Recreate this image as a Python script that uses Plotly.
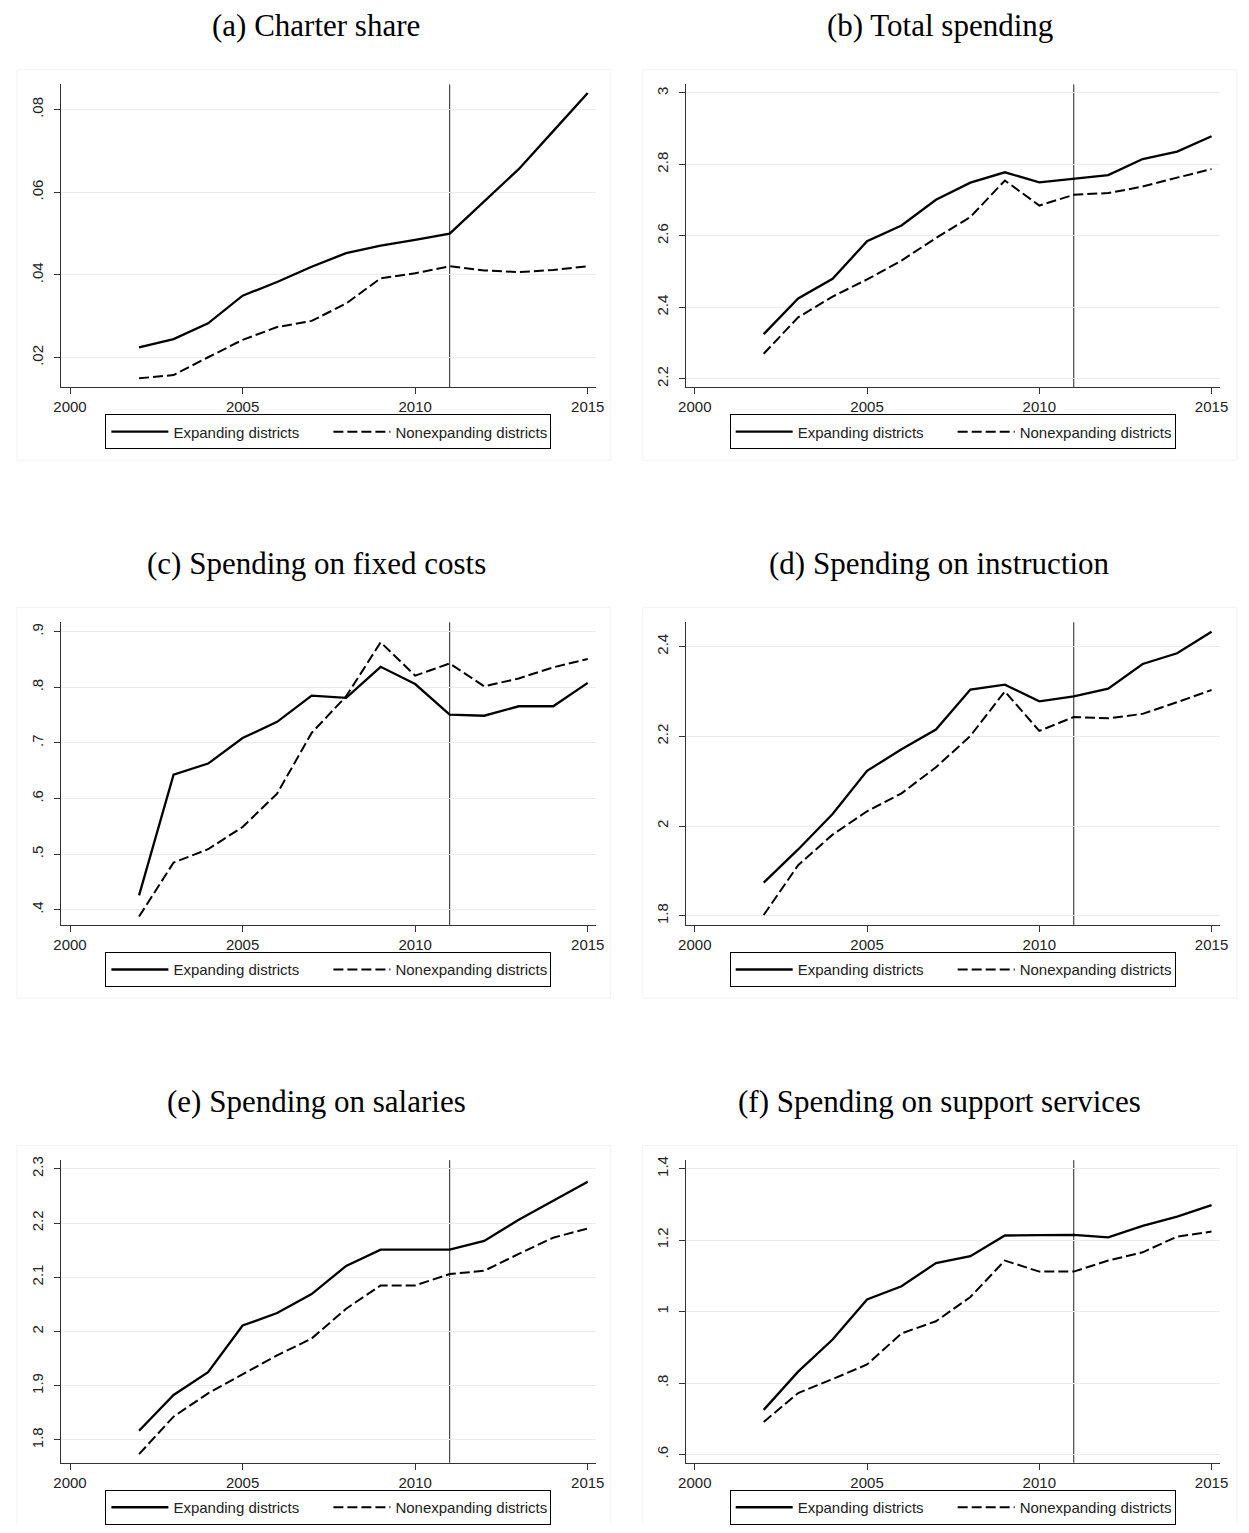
import plotly.graph_objects as go

# years covered by every panel
years = [2002, 2003, 2004, 2005, 2006, 2007, 2008, 2009, 2010, 2011, 2012, 2013, 2014, 2015]
policy_year = 2011

# (a) Charter share
charter_exp = [0.0225, 0.0245, 0.0283, 0.0350, 0.0383, 0.0420, 0.0453, 0.0471, 0.0485, 0.0500, 0.0578, 0.0656, 0.0748, 0.0840]
charter_non = [0.0150, 0.0158, 0.0201, 0.0243, 0.0274, 0.0289, 0.0331, 0.0392, 0.0404, 0.0421, 0.0411, 0.0407, 0.0412, 0.0421]

# (b) Total spending
total_exp = [2.325, 2.425, 2.480, 2.585, 2.629, 2.701, 2.749, 2.778, 2.750, 2.759, 2.770, 2.815, 2.836, 2.879]
total_non = [2.270, 2.372, 2.430, 2.478, 2.531, 2.594, 2.653, 2.755, 2.685, 2.715, 2.720, 2.738, 2.763, 2.787]

# (c) Spending on fixed costs
fixed_exp = [0.426, 0.643, 0.663, 0.709, 0.738, 0.785, 0.781, 0.837, 0.806, 0.751, 0.749, 0.766, 0.766, 0.808]
fixed_non = [0.388, 0.485, 0.509, 0.549, 0.609, 0.718, 0.784, 0.881, 0.821, 0.843, 0.802, 0.816, 0.836, 0.851]

# (d) Spending on instruction
instr_exp = [1.874, 1.948, 2.027, 2.123, 2.171, 2.215, 2.304, 2.315, 2.278, 2.289, 2.306, 2.361, 2.385, 2.433]
instr_non = [1.802, 1.913, 1.981, 2.033, 2.073, 2.131, 2.201, 2.300, 2.212, 2.243, 2.240, 2.250, 2.276, 2.303]

# (e) Spending on salaries
salary_exp = [1.817, 1.883, 1.925, 2.011, 2.034, 2.069, 2.121, 2.151, 2.151, 2.151, 2.167, 2.206, 2.241, 2.276]
salary_non = [1.774, 1.843, 1.886, 1.921, 1.956, 1.987, 2.042, 2.085, 2.085, 2.106, 2.112, 2.143, 2.173, 2.190]

# (f) Spending on support services
support_exp = [0.725, 0.832, 0.922, 1.034, 1.071, 1.136, 1.155, 1.213, 1.214, 1.215, 1.208, 1.240, 1.266, 1.298]
support_non = [0.691, 0.772, 0.811, 0.852, 0.939, 0.973, 1.041, 1.143, 1.112, 1.112, 1.143, 1.166, 1.210, 1.224]

titles = ["(a) Charter share", "(b) Total spending", "(c) Spending on fixed costs",
          "(d) Spending on instruction", "(e) Spending on salaries", "(f) Spending on support services"]

x_ticks = [2000, 2005, 2010, 2015]

y_ticks = [
    [0.02, 0.04, 0.06, 0.08],
    [2.2, 2.4, 2.6, 2.8, 3.0],
    [0.4, 0.5, 0.6, 0.7, 0.8, 0.9],
    [1.8, 2.0, 2.2, 2.4],
    [1.8, 1.9, 2.0, 2.1, 2.2, 2.3],
    [0.6, 0.8, 1.0, 1.2, 1.4],
]
y_labels = [
    [".02", ".04", ".06", ".08"],
    ["2.2", "2.4", "2.6", "2.8", "3"],
    [".4", ".5", ".6", ".7", ".8", ".9"],
    ["1.8", "2", "2.2", "2.4"],
    ["1.8", "1.9", "2", "2.1", "2.2", "2.3"],
    [".6", ".8", "1", "1.2", "1.4"],
]
y_ranges = [
    [0.0129, 0.0861],
    [2.177, 3.024],
    [0.373, 0.917],
    [1.780, 2.454],
    [1.758, 2.316],
    [0.577, 1.424],
]

series = [
    (charter_exp, charter_non),
    (total_exp, total_non),
    (fixed_exp, fixed_non),
    (instr_exp, instr_non),
    (salary_exp, salary_non),
    (support_exp, support_non),
]

# page is 1249x1533; the browser keeps an 8px body margin around the figure
PAGE_MARGIN = 8
W, H = 1249 - 2 * PAGE_MARGIN, 1533 - 2 * PAGE_MARGIN
ROW_STEP = 540
COL_LEFT = [54, 687]       # y-axis position on the page, px
COL_RIGHT = [596, 1228]
TITLE_X = [312, 944]
LEGEND_X = [324.5, 957]
BOX_X = [(9, 610.5), (643, 1245)]

SANS = "Liberation Sans, Arial, sans-serif"
SERIF = "Liberation Serif, Times New Roman, serif"
AXIS_COL = "#333333"


def px_x(v):
    return (v - PAGE_MARGIN) / W


def px_y(v):
    return 1 - (v - PAGE_MARGIN) / H


fig = go.Figure()
layout = {}
annotations = []
shapes = []

for i, (title, (exp, non)) in enumerate(zip(titles, series)):
    row, col = divmod(i, 2)
    n = i + 1
    sfx = "" if n == 1 else str(n)
    top = 80.7 + row * ROW_STEP
    bottom = 384.5 + row * ROW_STEP
    leg = "legend" + sfx

    fig.add_trace(go.Scatter(
        x=years, y=exp, mode="lines", name="Expanding districts",
        line=dict(color="black", width=2.3),
        xaxis="x" + sfx, yaxis="y" + sfx, legend=leg, showlegend=True
    ))
    fig.add_trace(go.Scatter(
        x=years, y=non, mode="lines", name="Nonexpanding districts",
        line=dict(color="black", width=2, dash="10px,4px"),
        xaxis="x" + sfx, yaxis="y" + sfx, legend=leg, showlegend=True
    ))

    layout["xaxis" + sfx] = dict(
        domain=[px_x(COL_LEFT[col]), px_x(COL_RIGHT[col])],
        anchor="y" + sfx, range=[1999.75, 2015.25],
        tickvals=x_ticks, ticks="outside", ticklen=6, tickcolor=AXIS_COL,
        showline=True, linecolor=AXIS_COL, linewidth=1, showgrid=False,
        zeroline=False, tickfont=dict(family=SANS, size=15, color="#222")
    )
    layout["yaxis" + sfx] = dict(
        domain=[px_y(bottom), px_y(top)],
        anchor="x" + sfx, range=y_ranges[i],
        tickvals=y_ticks[i], ticktext=y_labels[i], tickangle=-90,
        ticks="outside", ticklen=6, tickcolor=AXIS_COL, ticklabelstandoff=5,
        showline=True, linecolor=AXIS_COL, linewidth=1,
        showgrid=True, gridcolor="#ebebeb", gridwidth=1, zeroline=False,
        tickfont=dict(family=SANS, size=15, color="#222")
    )
    layout[leg] = dict(
        orientation="h", x=px_x(LEGEND_X[col]), xanchor="center",
        y=px_y(412 + row * ROW_STEP), yanchor="top",
        bordercolor="black", borderwidth=1, bgcolor="white",
        font=dict(family=SANS, size=15, color="#222"),
        itemwidth=57, entrywidth=150, entrywidthmode="pixels",
        tracegroupgap=0, itemclick=False, itemdoubleclick=False
    )

    annotations.append(dict(
        text=title, xref="paper", yref="paper",
        x=px_x(TITLE_X[col]), y=px_y(22 + row * ROW_STEP),
        xanchor="center", yanchor="middle", showarrow=False,
        font=dict(family=SERIF, size=31, color="black")
    ))

    # vertical reference line
    shapes.append(dict(
        type="line", xref="x" + sfx, yref="y" + sfx + " domain",
        x0=policy_year, x1=policy_year, y0=0, y1=1,
        line=dict(color="#222222", width=1), layer="below"
    ))
    # faint graph-region outline
    shapes.append(dict(
        type="rect", xref="paper", yref="paper",
        x0=px_x(BOX_X[col][0]), x1=px_x(BOX_X[col][1]),
        y0=px_y(458 + row * ROW_STEP), y1=px_y(66 + row * ROW_STEP),
        line=dict(color="#f2f2f2", width=1), layer="below"
    ))

fig.update_layout(
    **layout,
    annotations=annotations,
    shapes=shapes,
    width=W, height=H,
    margin=dict(l=0, r=0, t=0, b=0),
    paper_bgcolor="white", plot_bgcolor="white",
    hovermode=False,
)

fig.write_html("out.html", config={"displayModeBar": False})
